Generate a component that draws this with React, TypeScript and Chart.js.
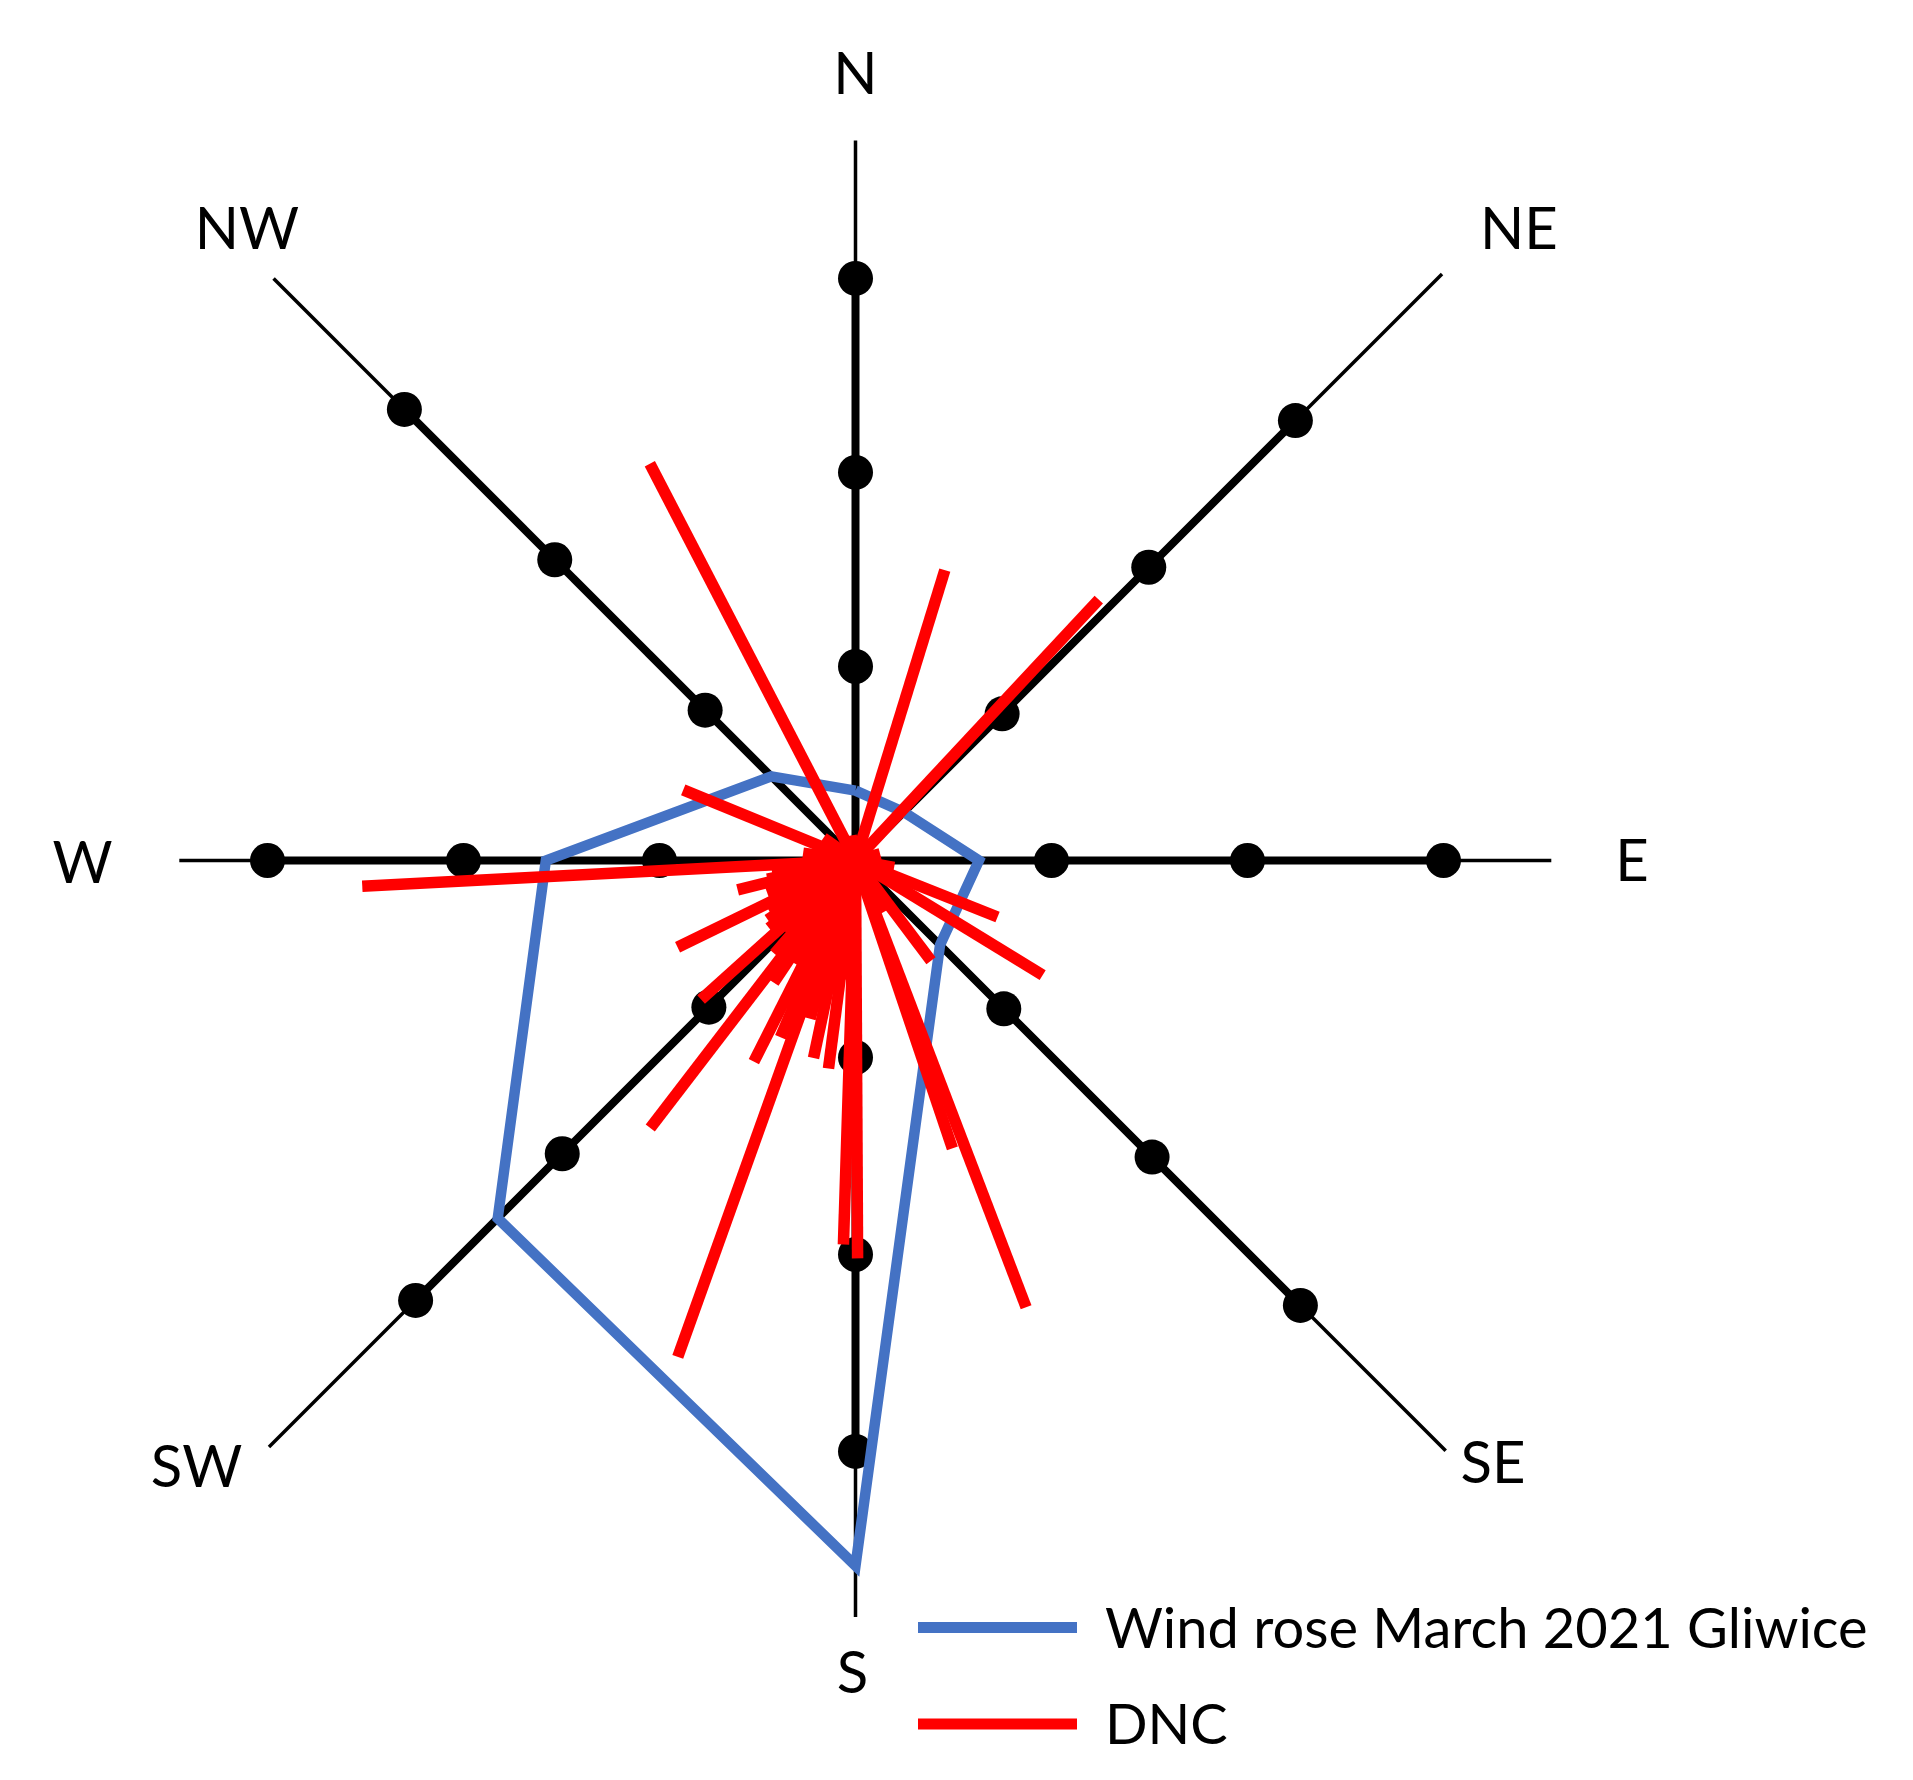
import React, { useEffect, useRef } from "react";
import { Chart, registerables } from "chart.js";

Chart.register(...registerables);

// ---------- data ----------
const DIRECTIONS = ["N", "NE", "E", "SE", "S", "SW", "W", "NW"];
const DIRECTION_BEARINGS = [0, 45, 90, 135, 180, 225, 270, 315];
const RING_VALUES = [1, 2, 3];
const AXIS_LENGTHS = [3.71, 4.0, 3.55, 3.98, 3.84, 4.0, 3.45, 3.87];
const WIND_ROSE_VALUES = [0.36, 0.33, 0.63, 0.57, 3.58, 2.44, 1.58, 0.56];

// DNC: direction (degrees, clockwise from N) and magnitude (ring units)
const DNC_BEARINGS = [
  332.6, 17.1, 43.0, 292.3, 267.0, 111.7, 121.5, 143.0, 161.4, 159.1,
  181.8, 179.7, 199.7, 217.5, 228.0, 244.0, 256.0, 206.8, 213.8, 203.0,
  192.0, 187.4, 196.0, 221.0, 278.0, 262.0, 236.0, 185.0, 190.0, 209.0,
  224.0, 232.0, 240.0, 250.0, 258.0, 100.0, 75.0, 305.0, 350.0, 150.0,
];
const DNC_LENGTHS = [
  2.28, 1.55, 1.82, 0.95, 2.52, 0.78, 1.12, 0.64, 1.55, 2.44,
  1.96, 2.03, 2.69, 1.72, 1.06, 1.01, 0.62, 1.15, 0.75, 0.98,
  1.03, 1.07, 0.84, 0.63, 0.27, 0.43, 0.54, 0.61, 0.56, 0.61,
  0.51, 0.56, 0.51, 0.48, 0.46, 0.2, 0.13, 0.2, 0.13, 0.3,
];

const SERIES_LABELS = ["Wind rose March 2021 Gliwice", "DNC"];

// ---------- layout / style ----------
const W = 1913;
const H = 1780;
const PX_PER_UNIT = 196;
const CENTER_X = 855.5;
const CENTER_Y = 860.5;
// per-direction axis scale (the drawn axes are not perfectly equal in length)
const AXIS_SCALE = [0.99, 1.058, 1.0, 1.07, 1.005, 1.058, 1.0, 1.085];
const BLUE = "#4472C4";
const RED = "#FF0000";
const FONT = "Lato, 'Open Sans', sans-serif";

// label anchors (x centre, baseline) in chart units relative to centre
const LABEL_ANCHORS: [number, number][] = [
  [0, 3.91],
  [3.385, 3.12],
  [3.962, -0.105],
  [3.253, -3.176],
  [-0.015, -4.247],
  [-3.362, -3.196],
  [-3.944, -0.115],
  [-3.105, 3.12],
];

const LEGEND_LINE_X0 = 918;
const LEGEND_LINE_X1 = 1077;
const LEGEND_TEXT_X = 1105;
const LEGEND_ROW_Y = [1627.5, 1724];

function toXY(bearingDeg: number, r: number) {
  const a = (bearingDeg * Math.PI) / 180;
  return { x: r * Math.sin(a), y: r * Math.cos(a) };
}

const overlayPlugin = {
  id: "overlayText",
  afterDraw(chart: any) {
    const { ctx } = chart;
    const xs = chart.scales.x;
    const ys = chart.scales.y;
    ctx.save();
    ctx.fillStyle = "#000";
    ctx.textAlign = "center";
    ctx.textBaseline = "alphabetic";
    ctx.font = `58px ${FONT}`;
    DIRECTIONS.forEach((d, i) => {
      const [ux, uy] = LABEL_ANCHORS[i];
      ctx.fillText(d, xs.getPixelForValue(ux), ys.getPixelForValue(uy));
    });
    // legend
    const colors = [BLUE, RED];
    ctx.textAlign = "left";
    ctx.font = `56px ${FONT}`;
    SERIES_LABELS.forEach((label, i) => {
      const y = LEGEND_ROW_Y[i];
      ctx.strokeStyle = colors[i];
      ctx.lineWidth = 11;
      ctx.lineCap = "butt";
      ctx.beginPath();
      ctx.moveTo(LEGEND_LINE_X0, y);
      ctx.lineTo(LEGEND_LINE_X1, y);
      ctx.stroke();
      ctx.fillStyle = "#000";
      ctx.fillText(label, LEGEND_TEXT_X, y + 20);
    });
    ctx.restore();
  },
};

export default function App() {
  const canvasRef = useRef<HTMLCanvasElement | null>(null);

  useEffect(() => {
    const canvas = canvasRef.current;
    if (!canvas) return;
    const origin = { x: 0, y: 0 };
    const datasets: any[] = [];

    // thin axis lines
    DIRECTION_BEARINGS.forEach((b, i) => {
      datasets.push({
        label: `axis-${DIRECTIONS[i]}`,
        data: [origin, toXY(b, AXIS_LENGTHS[i] * AXIS_SCALE[i])],
        showLine: true,
        borderColor: "#000",
        borderWidth: 3.5,
        pointRadius: 0,
        order: 40,
      });
    });
    // thick axis segments with ring markers
    DIRECTION_BEARINGS.forEach((b, i) => {
      datasets.push({
        label: `rings-${DIRECTIONS[i]}`,
        data: [origin, ...RING_VALUES.map((v) => toXY(b, v * AXIS_SCALE[i]))],
        showLine: true,
        borderColor: "#000",
        borderWidth: 8,
        pointRadius: (c: any) => (c.dataIndex === 0 ? 0 : 17.5),
        pointBackgroundColor: "#000",
        pointBorderWidth: 0,
        pointStyle: "circle",
        order: 30,
      });
    });
    // wind rose polygon
    const rose = WIND_ROSE_VALUES.map((v, i) => toXY(DIRECTION_BEARINGS[i], v * AXIS_SCALE[i]));
    datasets.push({
      label: SERIES_LABELS[0],
      data: [...rose, rose[0]],
      showLine: true,
      borderColor: BLUE,
      borderWidth: 10.5,
      borderJoinStyle: "miter",
      pointRadius: 0,
      order: 20,
    });
    // DNC lines
    DNC_BEARINGS.forEach((b, i) => {
      datasets.push({
        label: SERIES_LABELS[1],
        data: [origin, toXY(b, DNC_LENGTHS[i])],
        showLine: true,
        borderColor: RED,
        borderWidth: 11.5,
        borderCapStyle: "butt",
        pointRadius: 0,
        order: 10,
      });
    });

    const chart = new Chart(canvas, {
      type: "scatter",
      data: { datasets },
      options: {
        responsive: false,
        maintainAspectRatio: false,
        devicePixelRatio: 1,
        animation: false,
        events: [],
        layout: { padding: 0, autoPadding: false },
        plugins: {
          legend: { display: false },
          tooltip: { enabled: false },
          title: { display: false },
        },
        scales: {
          x: {
            type: "linear",
            display: false,
            min: -CENTER_X / PX_PER_UNIT,
            max: (W - CENTER_X) / PX_PER_UNIT,
          },
          y: {
            type: "linear",
            display: false,
            min: -(H - CENTER_Y) / PX_PER_UNIT,
            max: CENTER_Y / PX_PER_UNIT,
          },
        },
      },
      plugins: [overlayPlugin],
    });
    return () => chart.destroy();
  }, []);

  return (
    <div style={{ position: "fixed", left: 0, top: 0, width: W, height: H, background: "#fff" }}>
      <canvas ref={canvasRef} width={W} height={H} style={{ display: "block", width: W, height: H }} />
    </div>
  );
}
